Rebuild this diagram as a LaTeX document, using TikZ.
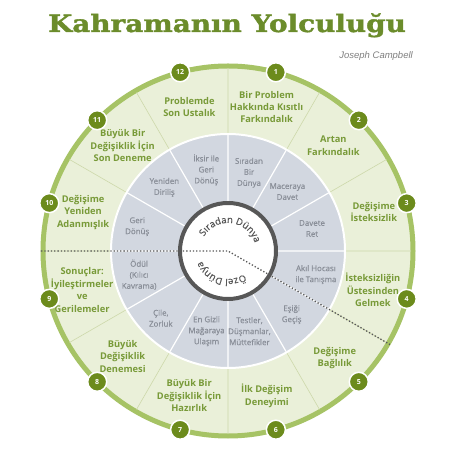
\documentclass[tikz,border=0pt]{standalone}
\usepackage{fontspec}
\setmainfont{Open Sans}
\newfontfamily\titlefont{DejaVu Serif}[FakeStretch=1.16,FakeBold=1.5]
\newfontfamily\namefont{Liberation Sans}
\newfontfamily\eventfont{Open Sans}[FakeBold=0.7]
\usetikzlibrary{decorations.text}
\definecolor{titlegreen}{HTML}{6B8C2B}
\definecolor{labelgreen}{HTML}{789A38}
\definecolor{ringgreen}{HTML}{A6C365}
\definecolor{dotgreen}{HTML}{6C8B1C}
\definecolor{fillgreen}{HTML}{EAF0D9}
\definecolor{linegreen}{HTML}{CDD8AA}
\definecolor{fillgrey}{HTML}{D2D7E0}
\definecolor{textgrey}{HTML}{8A8F99}
\definecolor{darkgrey}{HTML}{575757}
\tikzset{
    stage/.style={align=center, inner sep=0pt, text=labelgreen,
        font=\fontsize{9.3}{12.4}\selectfont\bfseries},
    event/.style={align=center, inner sep=0pt, text=textgrey,
        font=\eventfont\fontsize{7.9}{11}\selectfont},
    badge/.style={circle, fill=dotgreen, draw=white, line width=1.5pt,
        minimum size=19pt, inner sep=0pt, text=white,
        font=\fontsize{7}{7}\selectfont\bfseries},
    spoke/.style={linegreen, line width=0.6pt},
    wspoke/.style={white, line width=1.2pt}
}

\begin{document}
\begin{tikzpicture}[x=1pt,y=1pt]
    \useasboundingbox (-228,-203) rectangle (226,251);
    \fill[white] (-228,-203) rectangle (226,251);

    \node[anchor=base, inner sep=0pt, text=titlegreen] (title) at (-1,219)
        {\titlefont\bfseries\fontsize{24}{24}\selectfont Kahramanın Yolculuğu};
    \node[anchor=east, inner sep=0pt, text=gray] (author) at (185,195)
        {\namefont\itshape\fontsize{9.5}{9.5}\selectfont Joseph Campbell};

    \fill[fillgreen] (0,0) circle (185);
    \draw[ringgreen, line width=5pt] (0,0) circle (185);
    \draw[spoke] (0:117) -- (0:183) (30:117) -- (30:183) (60:117) -- (60:183)
        (90:117) -- (90:183) (120:117) -- (120:183) (150:117) -- (150:183)
        (180:117) -- (180:183) (210:117) -- (210:183) (240:117) -- (240:183)
        (270:117) -- (270:183) (300:117) -- (300:183) (330:117) -- (330:183);

    \filldraw[fill=fillgrey, draw=white, line width=2pt] (0,0) circle (117);
    \draw[wspoke] (0:50) -- (0:116) (30:50) -- (30:116) (60:50) -- (60:116)
        (90:50) -- (90:116) (120:50) -- (120:116) (150:50) -- (150:116)
        (180:50) -- (180:116) (210:50) -- (210:116) (240:50) -- (240:116)
        (270:50) -- (270:116) (300:50) -- (300:116) (330:50) -- (330:116);
    \filldraw[fill=white, draw=darkgrey, line width=4pt] (0,0) circle (48);

    \path[decorate, decoration={text along path, text align=center, text color=darkgrey,
        text={|\eventfont\fontsize{9.5}{9.5}\selectfont|Sıradan Dünya}}]
        (150:28) arc[start angle=150, end angle=16, radius=28];
    \path[decorate, decoration={text along path, text align=center, text color=darkgrey,
        text={|\eventfont\fontsize{9.5}{9.5}\selectfont|Özel Dünya}}]
        (-46:28) arc[start angle=-46, end angle=-168, radius=28];

    \coordinate (west) at (180:187);
    \coordinate (hub) at (0,0);
    \coordinate (exit) at (-30:187);
    \draw[darkgrey, line width=1.3pt, dotted] (west) -- (hub) -- (exit);

    \node[event] (s1) at (75:81) {Sıradan\\Bir\\Dünya};
    \node[event] (s2) at (45:84) {Maceraya\\Davet};
    \node[event] (s3) at (15:87) {Davete\\Ret};
    \node[event] (s4) at (-15:91) {Akıl Hocası\\ile Tanışma};
    \node[event] (s5) at (-45:90) {Eşiği\\Geçiş};
    \node[event] (s6) at (-75:83) {Testler,\\Düşmanlar,\\Müttefikler};
    \node[event] (s7) at (-105:83) {En Gizli\\Mağaraya\\Ulaşım};
    \node[event] (s8) at (-135:95) {Çile,\\Zorluk};
    \node[event] (s9) at (-165:92) {Ödül\\(Kılıcı\\Kavrama)};
    \node[event] (s10) at (165:94) {Geri\\Dönüş};
    \node[event] (s11) at (135:90) {Yeniden\\Diriliş};
    \node[event] (s12) at (105:84) {İksir ile\\Geri\\Dönüş};

    \node[stage] (g1) at (75:149) {Bir Problem\\Hakkında Kısıtlı\\Farkındalık};
    \node[stage] (g2) at (45:149) {Artan\\Farkındalık};
    \node[stage] (g3) at (15:151) {Değişime\\İsteksizlik};
    \node[stage] (g4) at (-15:150) {İsteksizliğin\\Üstesinden\\Gelmek};
    \node[stage] (g5) at (-45:151) {Değişime\\Bağlılık};
    \node[stage] (g6) at (-75:150) {İlk Değişim\\Deneyimi};
    \node[stage] (g7) at (-105:150) {Büyük Bir\\Değişiklik İçin\\Hazırlık};
    \node[stage] (g8) at (-135:149) {Büyük\\Değişiklik\\Denemesi};
    \node[stage] (g9) at (-165:151) {Sonuçlar:\\İyileştirmeler\\ve\\Gerilemeler};
    \node[stage] (g10) at (165:150) {Değişime\\Yeniden\\Adanmışlık};
    \node[stage] (g11) at (135:149) {Büyük Bir\\Değişiklik İçin\\Son Deneme};
    \node[stage] (g12) at (105:149) {Problemde\\Son Ustalık};

    \node[badge] (n1) at (75:185) {1};
    \node[badge] (n2) at (45:185) {2};
    \node[badge] (n3) at (15:185) {3};
    \node[badge] (n4) at (-15:185) {4};
    \node[badge] (n5) at (-45:185) {5};
    \node[badge] (n6) at (-75:185) {6};
    \node[badge] (n7) at (-105:185) {7};
    \node[badge] (n8) at (-135:185) {8};
    \node[badge] (n9) at (-165:185) {9};
    \node[badge] (n10) at (165:185) {10};
    \node[badge] (n11) at (135:185) {11};
    \node[badge] (n12) at (105:185) {12};
\end{tikzpicture}
\end{document}
